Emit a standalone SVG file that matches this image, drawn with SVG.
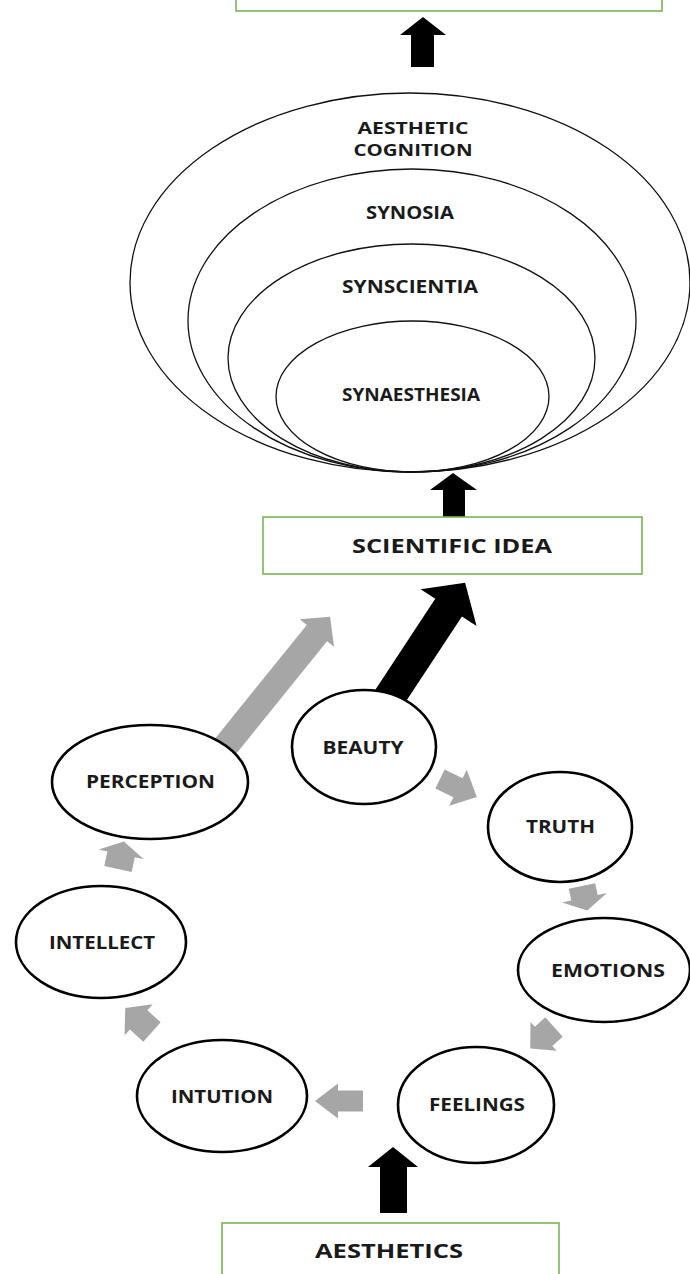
<svg xmlns="http://www.w3.org/2000/svg" width="690" height="1274" viewBox="0 0 690 1274">
<style>
.box{fill:#fff;stroke:#7ab356;stroke-width:1.6}
.ring{fill:none;stroke:#111;stroke-width:1.3}
.node{fill:#fff;stroke:#000;stroke-width:2.6}
.blk{fill:#000}
.gry{fill:#a6a6a6}
text{font-family:"Open Sans","DejaVu Sans",sans-serif;font-weight:700;fill:#1a1a1a;text-anchor:middle}
.t18{font-size:18px}
.t16{font-size:16px}
.t17{font-size:17px}
.t19{font-size:19.5px}
</style>
<rect width="690" height="1274" fill="#fff"/>
<g id="connectors">
<polygon class="blk" points="411,67 411,35 400,35 423,17 446,35 434,35 434,67"/>
<polygon class="blk" points="443,521 443,490 430,490 453,473 477,490 465,490 465,521"/>
<polygon class="blk" points="380,1213 380,1167 368,1167 393,1147 418,1167 407,1167 407,1213"/>
<path class="blk" transform="translate(393,692) rotate(-56.6)" d="M-12,-16 H101 V-33.5 L131,0 L101,33.5 V16 H-12 Z"/>
<path class="gry" transform="translate(229,742) rotate(-51.1)" d="M-12,-13 H140 V-22 L161,0 L140,22 V13 H-12 Z"/>
<path class="gry" transform="translate(440,779) rotate(26)" d="M0,-10.5 H20 V-20 L41,0 L20,20 V10.5 H0 Z"/>
<path class="gry" transform="translate(582,886) rotate(78)" d="M0,-13.5 H12 V-23 L25,0 L12,23 V13.5 H0 Z"/>
<path class="gry" transform="translate(554,1027) rotate(138)" d="M0,-13 H14 V-19.5 L32,0 L14,19.5 V13 H0 Z"/>
<path class="gry" transform="translate(363,1101) rotate(180)" d="M0,-10.5 H25 V-17.5 L48,0 L25,17.5 V10.5 H0 Z"/>
<path class="gry" transform="translate(152,1032) rotate(-138)" d="M0,-13 H18 V-21 L36,0 L18,21 V13 H0 Z"/>
<path class="gry" transform="translate(118,869) rotate(-78)" d="M0,-14 H15 V-23 L28,0 L15,23 V14 H0 Z"/>
</g>
<g id="top-box"><rect class="box" x="236" y="-40" width="426" height="51"/></g>
<g id="aesthetic-cognition">
<ellipse class="ring" cx="410" cy="282.5" rx="280" ry="189.5"/>
<text class="t16" x="413" y="134" textLength="111" lengthAdjust="spacingAndGlyphs">AESTHETIC</text>
<text class="t16" x="413" y="156" textLength="119" lengthAdjust="spacingAndGlyphs">COGNITION</text>
</g>
<g id="synosia">
<ellipse class="ring" cx="412" cy="320.5" rx="224" ry="151.5"/>
<text class="t18" x="410" y="219" textLength="88" lengthAdjust="spacingAndGlyphs">SYNOSIA</text>
</g>
<g id="synscientia">
<ellipse class="ring" cx="411.5" cy="358" rx="183.5" ry="114"/>
<text class="t18" x="410" y="293" textLength="136" lengthAdjust="spacingAndGlyphs">SYNSCIENTIA</text>
</g>
<g id="synaesthesia">
<ellipse class="ring" cx="412.5" cy="396.5" rx="136.5" ry="75.5"/>
<text class="t17" x="411" y="401" textLength="138" lengthAdjust="spacingAndGlyphs">SYNAESTHESIA</text>
</g>
<g id="scientific-idea">
<rect class="box" x="263" y="517" width="379" height="57"/>
<text class="t19" x="452" y="553" textLength="200" lengthAdjust="spacingAndGlyphs">SCIENTIFIC IDEA</text>
</g>
<g id="beauty">
<ellipse class="node" cx="364" cy="747" rx="72" ry="57"/>
<text class="t18" x="363" y="754" textLength="81" lengthAdjust="spacingAndGlyphs">BEAUTY</text>
</g>
<g id="perception">
<ellipse class="node" cx="150" cy="782" rx="98" ry="57"/>
<text class="t18" x="150.5" y="788" textLength="129" lengthAdjust="spacingAndGlyphs">PERCEPTION</text>
</g>
<g id="truth">
<ellipse class="node" cx="560" cy="827" rx="72" ry="55"/>
<text class="t18" x="560.5" y="833" textLength="69" lengthAdjust="spacingAndGlyphs">TRUTH</text>
</g>
<g id="intellect">
<ellipse class="node" cx="101" cy="942" rx="85" ry="56"/>
<text class="t18" x="102" y="949" textLength="106" lengthAdjust="spacingAndGlyphs">INTELLECT</text>
</g>
<g id="emotions">
<ellipse class="node" cx="604" cy="970" rx="86" ry="52"/>
<text class="t18" x="608" y="977" textLength="114" lengthAdjust="spacingAndGlyphs">EMOTIONS</text>
</g>
<g id="intution">
<ellipse class="node" cx="222" cy="1096" rx="85" ry="56"/>
<text class="t18" x="222" y="1103" textLength="102" lengthAdjust="spacingAndGlyphs">INTUTION</text>
</g>
<g id="feelings">
<ellipse class="node" cx="476" cy="1105" rx="78" ry="58"/>
<text class="t18" x="477" y="1111" textLength="96" lengthAdjust="spacingAndGlyphs">FEELINGS</text>
</g>
<g id="aesthetics">
<rect class="box" x="222" y="1223" width="337" height="100"/>
<text class="t19" x="389" y="1258" textLength="148" lengthAdjust="spacingAndGlyphs">AESTHETICS</text>
</g>
</svg>
